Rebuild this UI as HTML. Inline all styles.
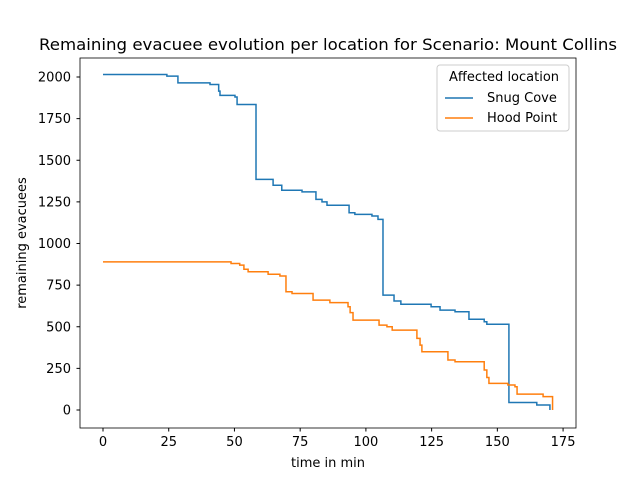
<!DOCTYPE html>
<html><head><meta charset="utf-8"><style>
body{margin:0;background:#fff;font-family:"DejaVu Sans",sans-serif;}
</style></head><body>
<svg id="chart" width="640" height="480" xmlns="http://www.w3.org/2000/svg" font-family="DejaVu Sans, sans-serif">
<rect width="640" height="480" fill="#fff"/>
<text x="328" y="50" font-size="16" text-anchor="middle" textLength="578" lengthAdjust="spacingAndGlyphs">Remaining evacuee evolution per location for Scenario: Mount Collins</text>
<g id="ticks"></g>
<g id="series"></g>
<rect x="80" y="58" width="496" height="370" fill="none" stroke="#000" stroke-width="0.8"/>
<text x="328" y="467" font-size="13" text-anchor="middle">time in min</text>
<text transform="translate(26,243) rotate(-90)" font-size="13" text-anchor="middle">remaining evacuees</text>
<g>
<rect x="437" y="65" width="132" height="66" rx="3" fill="#fff" stroke="#ccc"/>
<text x="504" y="81" font-size="13" text-anchor="middle">Affected location</text>
<line x1="445" y1="98" x2="473" y2="98" stroke="#1f77b4" stroke-width="1.5"/>
<text x="487" y="102" font-size="13">Snug Cove</text>
<line x1="445" y1="118" x2="473" y2="118" stroke="#ff7f0e" stroke-width="1.5"/>
<text x="487" y="122" font-size="13">Hood Point</text>
</g>
</svg>
<script>
const xTicks=[0,25,50,75,100,125,150,175];
const yTicks=[0,250,500,750,1000,1250,1500,1750,2000];
const snugTimes=[0,24.3,28.5,40.7,44,44.5,50.2,51,58.2,64.7,68,75.7,81,83.3,85.2,93.6,95.8,102.3,104.6,106.5,110.7,113.3,124.8,128.2,133.9,139.2,145,146,154.4,165,170];
const snugValues=[2015,2005,1965,1955,1915,1890,1880,1835,1385,1350,1320,1310,1265,1250,1230,1185,1175,1165,1145,690,655,635,620,600,590,545,530,515,45,30,0];
const hoodTimes=[0,48.7,52,53.6,55.2,62.8,67.3,69.6,71.9,79.9,86.3,93.2,94,95.1,105,108,110,119.4,120.6,121.3,131.2,133.9,145,146,146.8,154,156.7,157.5,167.4,171];
const hoodValues=[890,880,870,845,830,815,805,710,700,660,645,620,585,540,510,500,480,430,390,350,300,290,240,195,160,150,140,95,80,0];
function xs(v){return 103+v*2.629;}
function ys(v){return 410-v*0.1665;}
const NS="http://www.w3.org/2000/svg";
const tg=document.getElementById('ticks');
xTicks.forEach(t=>{
 const l=document.createElementNS(NS,'line');
 l.setAttribute('x1',xs(t));l.setAttribute('x2',xs(t));l.setAttribute('y1',428);l.setAttribute('y2',431.5);l.setAttribute('stroke','#000');
 
 
 tg.appendChild(l);
 const tx=document.createElementNS(NS,'text');
 tx.setAttribute('x',xs(t));tx.setAttribute('y',446);tx.setAttribute('font-size','13');tx.setAttribute('text-anchor','middle');tx.textContent=t;
 
 
 tg.appendChild(tx);
});
yTicks.forEach(t=>{
 const l=document.createElementNS(NS,'line');
 l.setAttribute('x1',76.5);l.setAttribute('x2',80);l.setAttribute('y1',ys(t));l.setAttribute('y2',ys(t));l.setAttribute('stroke','#000');
 
 
 tg.appendChild(l);
 const tx=document.createElementNS(NS,'text');
 tx.setAttribute('x',71);tx.setAttribute('y',ys(t)+4.5);tx.setAttribute('font-size','13');tx.setAttribute('text-anchor','end');tx.textContent=t;
 
 
 tg.appendChild(tx);
});
function stepPath(ts,vs){
 let d='M'+xs(ts[0])+','+ys(vs[0]);
 for(let i=1;i<ts.length;i++){d+=' H'+xs(ts[i])+' V'+ys(vs[i]);}
 return d;
}
const sg=document.getElementById('series');
const p1=document.createElementNS(NS,'path');
p1.setAttribute('d',stepPath(snugTimes,snugValues));p1.setAttribute('fill','none');p1.setAttribute('stroke','#1f77b4');p1.setAttribute('stroke-width','1.5');


sg.appendChild(p1);
const p2=document.createElementNS(NS,'path');
p2.setAttribute('d',stepPath(hoodTimes,hoodValues));p2.setAttribute('fill','none');p2.setAttribute('stroke','#ff7f0e');p2.setAttribute('stroke-width','1.5');


sg.appendChild(p2);
</script>
</body></html>
